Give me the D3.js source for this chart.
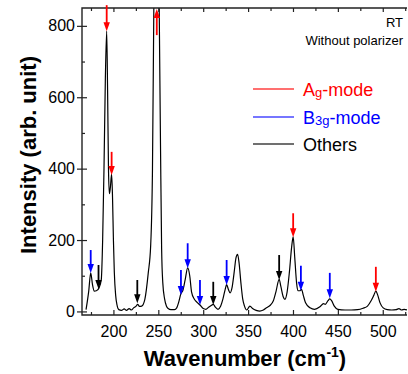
<!DOCTYPE HTML>
<html>
  <head>
    <style>
      body { margin: 0; background: #fff; }
      text { font-family: "Liberation Sans", Arial, sans-serif; }
    </style>
    <script type="text/javascript" src="https://cdnjs.cloudflare.com/ajax/libs/d3/7.8.5/d3.min.js"></script>
  </head>
  <body>
    <div id="graph-holder"></div>
    <script type="text/javascript">
      // Raman spectrum: wavenumber (cm-1) and intensity
      const wavenumber = [169.5, 172.5, 174.7, 176.7, 178.7, 181, 184, 186.5, 188, 189.5, 191, 192.5, 193.5, 194.5, 195.5, 196.5, 198, 199, 200, 201, 202.5, 204, 206, 209, 212, 214.5, 217.5, 220, 222.5, 225, 227, 229, 231.5, 235, 238.8, 241.5, 243.5, 245, 247, 248.5, 250, 251, 252.5, 253.7, 255, 257, 259, 261, 264, 268, 270.5, 272.5, 275.2, 277.5, 280, 282.7, 285, 287, 290, 293, 296.4, 300, 303, 306, 308.5, 311.2, 313.5, 316.5, 319.5, 322, 324.5, 326.1, 328, 330, 332, 334.5, 336.5, 338.3, 340, 342, 344, 346, 348.5, 352, 355, 359, 363, 367, 370.5, 375, 378, 381, 384.6, 386.5, 389, 391, 393.5, 396, 398.5, 400.2, 402, 404, 405.5, 407.5, 409.5, 411.5, 414, 419, 424, 430, 434, 436, 439, 441, 443, 446, 450, 458, 465, 472, 478, 483, 487, 490, 492.3, 494.5, 497, 500.5, 505, 510, 515, 518, 521, 524, 527];
      const intensity = [5, 57, 108, 75, 57, 58, 66, 90, 200, 400, 650, 785, 620, 400, 330, 345, 385, 320, 200, 110, 45, 18, 5, 3, 7, 3, 8, 4, 10, 14, 20, 14, 15, 34, 108, 185, 400, 850, 1200, 1260, 1100, 850, 450, 175, 80, 35, 15, 8, 5, 5, 10, 24, 50, 60, 90, 122, 100, 55, 35, 26, 18, 8, 6, 12, 16, 20, 12, 6, 15, 35, 62, 75, 62, 52, 65, 110, 150, 160, 135, 80, 35, 15, 4, 15, 8, 3, 1, 4, 10, 18, 29, 55, 90, 70, 42, 34, 55, 110, 180, 209, 150, 80, 58, 58, 62, 45, 24, 10, 6, 13, 22, 20, 30, 35, 30, 15, 6, 4, 4, 5, 9, 15, 30, 45, 57, 45, 24, 10, 5, 4, 5, 8, 4, 6, 4];

      // mode arrows: position, tail and tip intensity, assignment
      const arrowPos  = [174.7, 183.4, 192.5, 198, 248.3, 226.6, 275.2, 282.7, 296.4, 311.2, 326.1, 384.6, 400.2, 408.8, 441, 492.3];
      const arrowTail = [172, 130, 858, 447, 774, 88, 116, 191, 88, 83, 144, 158, 275, 128, 108, 125];
      const arrowTip  = [108, 63, 785, 382, 847, 23, 46, 121, 18, 18, 74, 88, 208, 58, 37, 55];
      const arrowMode = ["B3g", "Others", "Ag", "Ag", "Ag", "Others", "B3g", "B3g", "B3g", "Others", "B3g", "Others", "Ag", "B3g", "B3g", "Ag"];

      const xTicks = [200, 250, 300, 350, 400, 450, 500];
      const xMinor = [175, 225, 275, 325, 375, 425, 475, 525];
      const yTicks = [0, 200, 400, 600, 800];
      const yMinor = [100, 300, 500, 700];

      const legendModes = ["Ag", "B3g", "Others"];

      const width = 408;
      const height = 374;
      const plot = {left: 82, right: 407, top: 8, bottom: 315};
      const modeColor = {"Ag": "#ff0000", "B3g": "#0000ff", "Others": "#000000"};
      const legendLine = {"Ag": "#ff4040", "B3g": "#4848ff", "Others": "#404040"};

      var svg = d3.select("#graph-holder")
          .append("svg")
          .attr("width", width)
          .attr("height", height);

      var xScale = d3.scaleLinear().domain([165, 527]).range([plot.left, plot.right]);
      var yScale = d3.scaleLinear().domain([-10, 850]).range([plot.bottom, plot.top]);

      svg.append("clipPath").attr("id", "clip")
        .append("rect")
        .attr("x", plot.left).attr("y", plot.top)
        .attr("width", plot.right - plot.left).attr("height", plot.bottom - plot.top);

      // spectrum
      var spectrum = wavenumber.map((w, i) => ({x: w, y: intensity[i]}));
      var line = d3.line()
          .x(d => xScale(d.x))
          .y(d => yScale(d.y))
          .curve(d3.curveMonotoneX);
      svg.append("path")
        .datum(spectrum)
        .attr("clip-path", "url(#clip)")
        .attr("fill", "none")
        .attr("stroke", "#000")
        .attr("stroke-width", 1.2)
        .attr("d", line);

      // X axis (ticks point inward)
      var xAxis = svg.append("g")
        .attr("transform", `translate(0, ${plot.bottom})`)
        .call(d3.axisBottom(xScale).tickValues(xTicks).tickSizeInner(-5).tickSizeOuter(0).tickPadding(11));
      svg.append("g")
        .attr("transform", `translate(0, ${plot.bottom})`)
        .call(d3.axisBottom(xScale).tickValues(xMinor).tickSizeInner(-3).tickSizeOuter(0).tickFormat(""));
      // top axis ticks
      svg.append("g")
        .attr("transform", `translate(0, ${plot.top})`)
        .call(d3.axisTop(xScale).tickValues(xTicks).tickSizeInner(-4).tickSizeOuter(0).tickFormat(""));
      svg.append("g")
        .attr("transform", `translate(0, ${plot.top})`)
        .call(d3.axisTop(xScale).tickValues(xMinor).tickSizeInner(-3).tickSizeOuter(0).tickFormat(""));

      // Y axis
      var yAxis = svg.append("g")
        .attr("transform", `translate(${plot.left}, 0)`)
        .call(d3.axisLeft(yScale).tickValues(yTicks).tickSizeInner(5).tickSizeOuter(0).tickPadding(2));
      yAxis.selectAll(".tick line").attr("x1", 5);
      svg.append("g")
        .attr("transform", `translate(${plot.left}, 0)`)
        .call(d3.axisLeft(yScale).tickValues(yMinor).tickSizeInner(-3).tickSizeOuter(0).tickFormat(""));

      svg.selectAll(".domain").remove();
      svg.selectAll(".tick line").attr("stroke", "#222").attr("stroke-width", 1.2);
      svg.selectAll(".tick text")
        .attr("fill", "#000")
        .style("font-size", "16px")
        .style("font-family", "'Liberation Sans', Arial, sans-serif");

      // frame: left, bottom, top
      svg.append("path")
        .attr("fill", "none")
        .attr("stroke", "#222")
        .attr("stroke-width", 1.4)
        .attr("d", `M${plot.right},${plot.top}H${plot.left}V${plot.bottom}H${plot.right}`);

      // arrows
      var arrows = arrowPos.map((p, i) => ({x: p, tail: arrowTail[i], tip: arrowTip[i], mode: arrowMode[i]}));
      var headLen = 9, headW = 3.2;
      var ag = svg.append("g").selectAll("g").data(arrows).enter().append("g");
      ag.append("line")
        .attr("x1", d => xScale(d.x)).attr("x2", d => xScale(d.x))
        .attr("y1", d => yScale(d.tail))
        .attr("y2", d => {
          var dir = yScale(d.tip) > yScale(d.tail) ? 1 : -1;
          return yScale(d.tip) - dir * (headLen - 1);
        })
        .attr("stroke", d => modeColor[d.mode])
        .attr("stroke-width", 1.8);
      ag.append("path")
        .attr("fill", d => modeColor[d.mode])
        .attr("d", d => {
          var x0 = xScale(d.x), yt = yScale(d.tip);
          var dir = yt > yScale(d.tail) ? 1 : -1;
          return `M${x0 - headW},${yt - dir * headLen}L${x0 + headW},${yt - dir * headLen}L${x0},${yt}Z`;
        });

      // legend
      var leg = svg.append("g").selectAll("g").data(legendModes).enter().append("g")
        .attr("transform", (d, i) => `translate(253, ${[89, 117, 144][i]})`);
      leg.append("line")
        .attr("x1", 0).attr("x2", 41)
        .attr("stroke", d => legendLine[d])
        .attr("stroke-width", 1.4);
      var lt = leg.append("text")
        .attr("x", 50)
        .attr("y", 7)
        .attr("fill", d => modeColor[d])
        .style("font-size", "18px");
      lt.each(function(d) {
        var t = d3.select(this);
        if (d === "Others") { t.text("Others"); return; }
        t.append("tspan").text(d.charAt(0));
        t.append("tspan").style("font-size", "13px").attr("dy", 1).text(d.slice(1));
        t.append("tspan").attr("dy", -1).text("-mode");
      });

      // annotation
      svg.append("text")
        .attr("x", 403).attr("y", 27)
        .attr("text-anchor", "end")
        .style("font-size", "13px")
        .text("RT");
      svg.append("text")
        .attr("x", 403).attr("y", 45)
        .attr("text-anchor", "end")
        .style("font-size", "13px")
        .text("Without polarizer");

      // axis titles
      svg.append("text")
        .attr("transform", "translate(36, 155) rotate(-90)")
        .attr("text-anchor", "middle")
        .style("font-size", "22px")
        .style("font-weight", "bold")
        .text("Intensity (arb. unit)");
      var xt = svg.append("text")
        .attr("x", 245).attr("y", 366)
        .attr("text-anchor", "middle")
        .style("font-size", "22px")
        .style("font-weight", "bold");
      xt.append("tspan").text("Wavenumber (cm");
      xt.append("tspan").attr("dy", -9).style("font-size", "14px").text("-1");
      xt.append("tspan").attr("dy", 9).text(")");
    </script>
  </body>
</html>
